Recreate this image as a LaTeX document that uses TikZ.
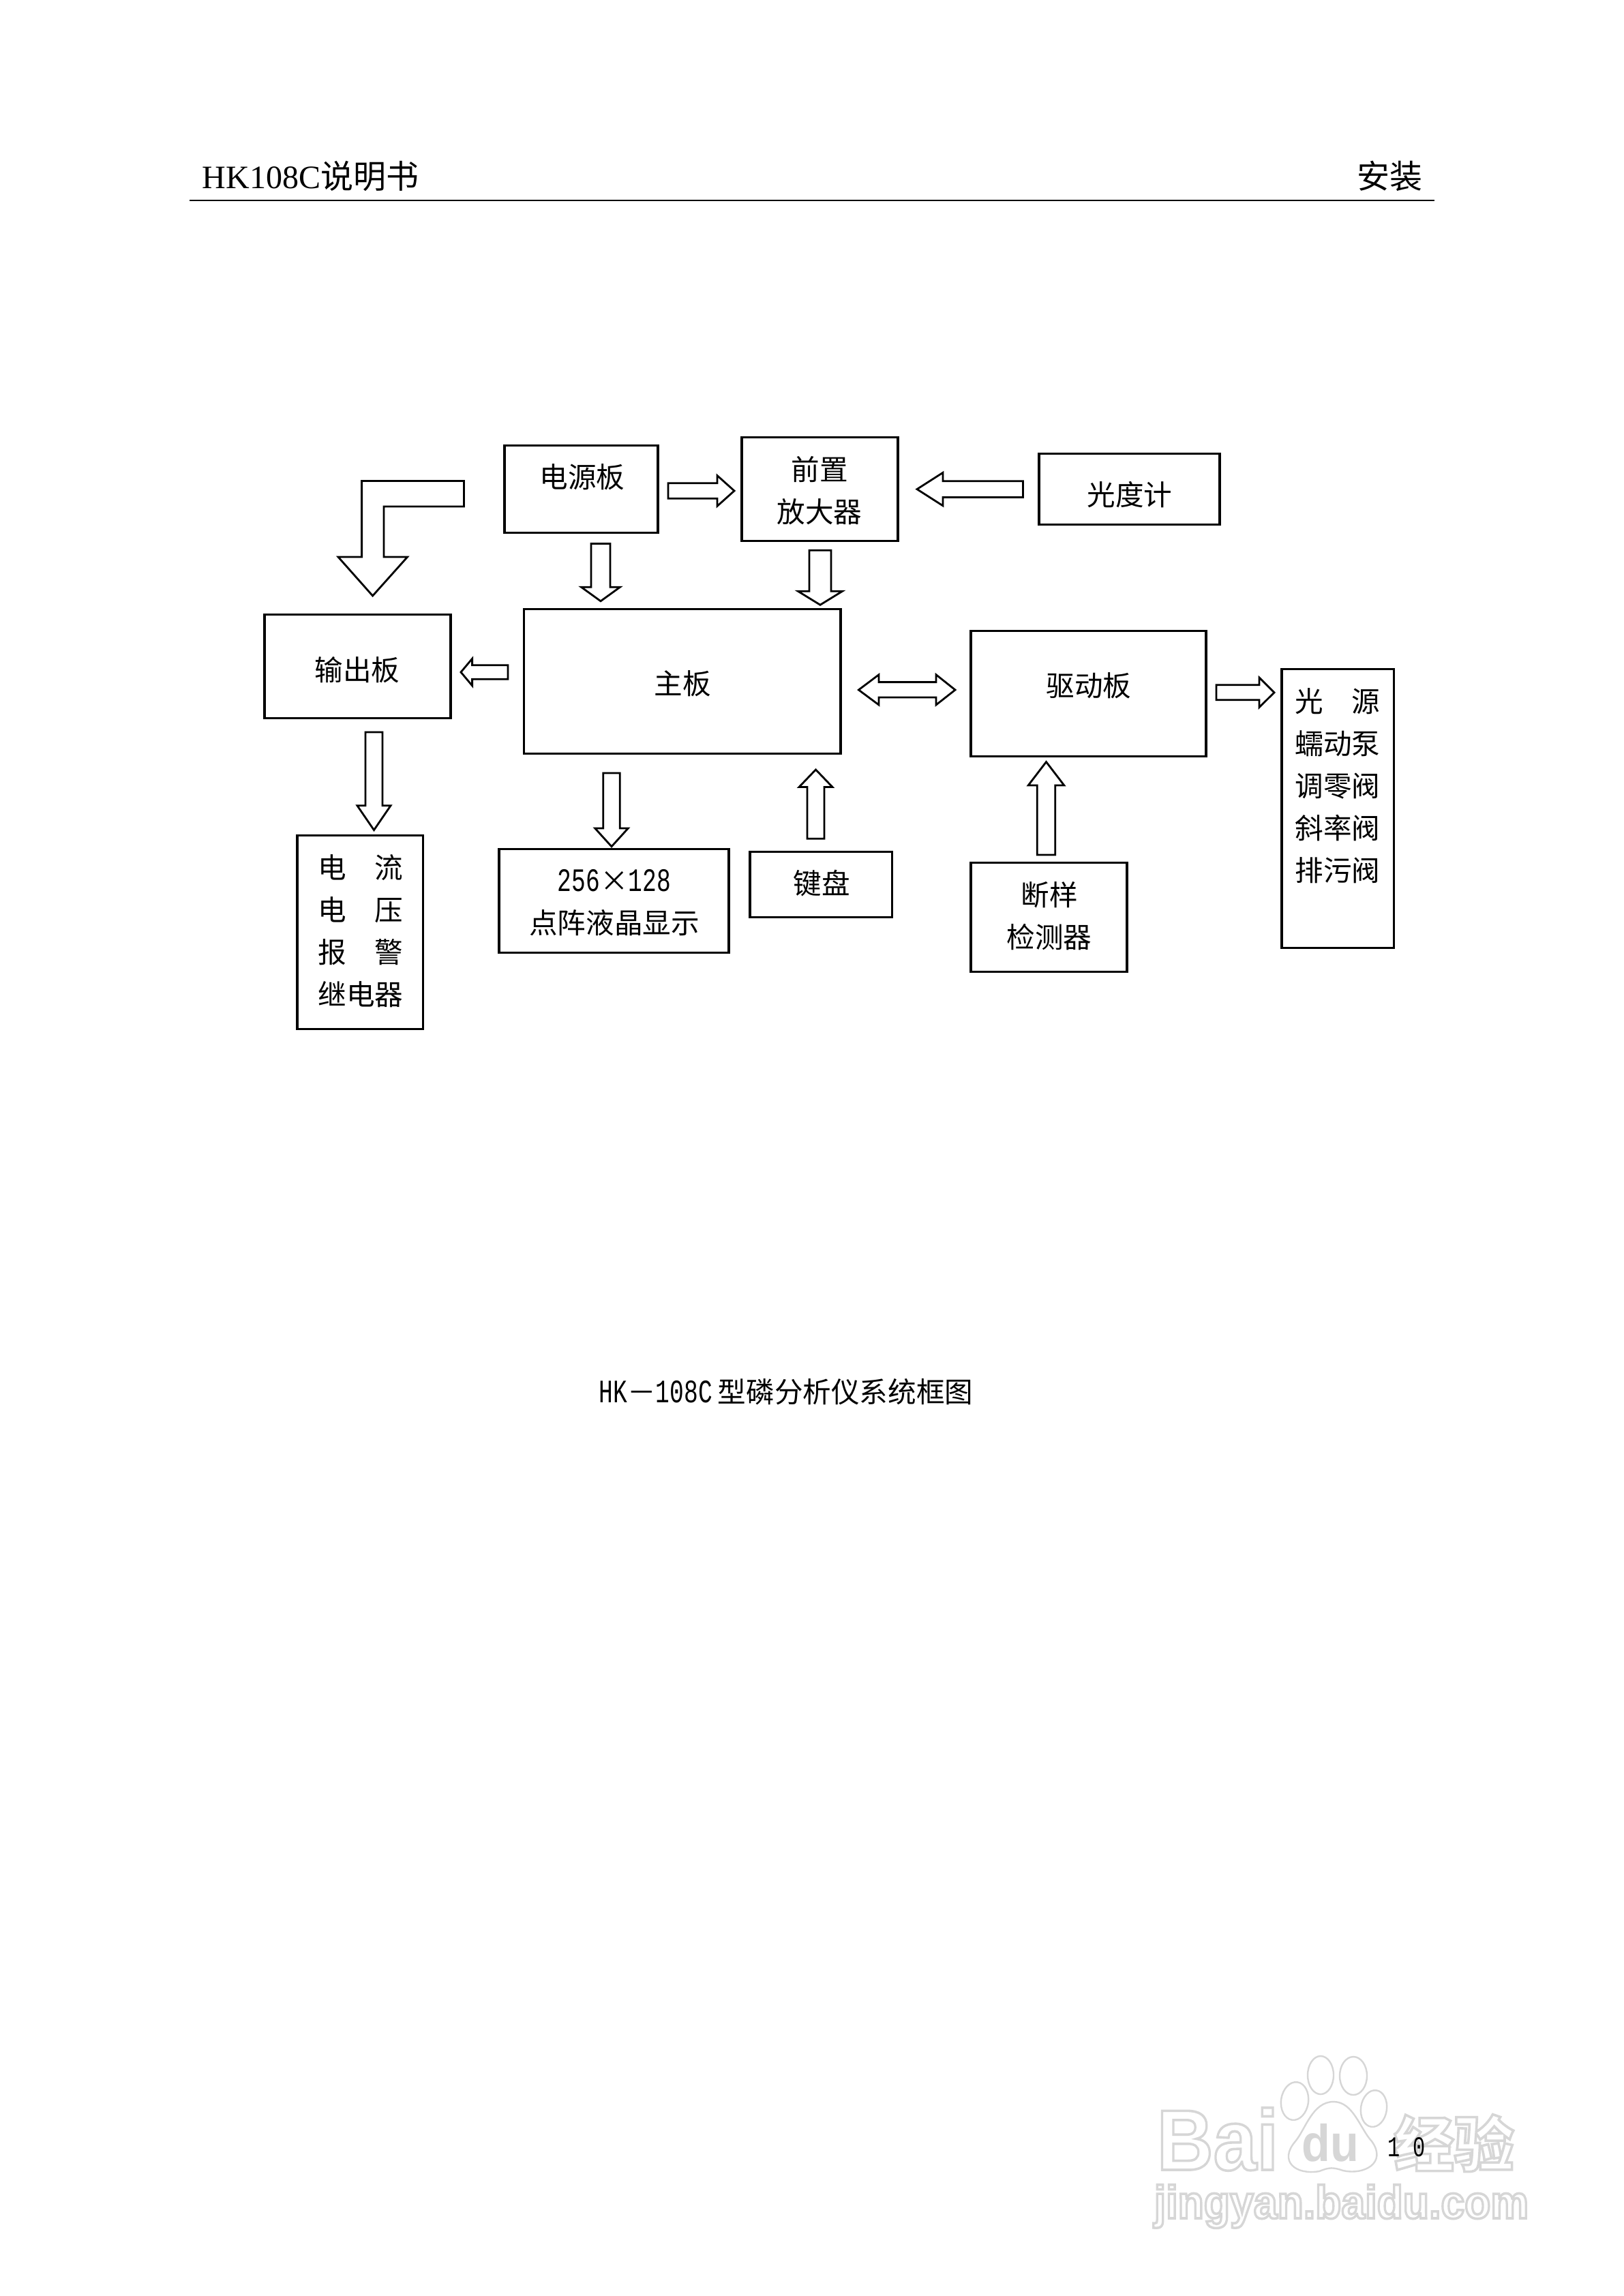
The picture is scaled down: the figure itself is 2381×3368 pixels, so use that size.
\documentclass[tikz,border=0pt]{standalone}
\usepackage{fontspec}
\usetikzlibrary{calc}
\setmainfont{Liberation Serif}
\newfontfamily\cjkf{Noto Sans CJK SC}
\newfontfamily\halfw[FakeStretch=0.72]{Liberation Mono}
\newfontfamily\wmsans[BoldFont={Liberation Sans Bold}]{Liberation Sans}
\newcommand{\hw}[1]{{\halfw\fontsize{12}{15.5}\selectfont #1}}
\newcommand{\outl}[1]{\special{pdf:code 1 Tr 0.9 w}#1\special{pdf:code 0 Tr 1 w}}
\definecolor{wmgray}{gray}{0.84}
\tikzset{
  x=0.25pt, y=-0.25pt,
  boxn/.style={draw=black, line width=0.8pt, fill=none, inner sep=0, outer sep=0},
  txt/.style={font=\cjkf\fontsize{10.4}{15.5}\selectfont, align=center, inner sep=0, text=black},
  blockline/.style={draw=black, line width=0.7pt, line join=miter, fill=white},
  wm/.style={draw=wmgray, line width=0.6pt, fill=white},
  wmtxt/.style={text=wmgray, inner sep=0, transform shape},
}
% box: name, x1, y1, x2, y2
\newcommand{\boxat}[5]{\node[boxn, minimum width={(#4-#2)*0.25pt}, minimum height={(#5-#3)*0.25pt}] (#1) at ({(#2+#4)/2},{(#3+#5)/2}) {};}
% block arrow: tail, tip, half shaft, half head, head length
\newcommand{\blockarrow}[5]{%
  \coordinate (base) at ($(#2)!#5*0.25pt!(#1)$);
  \draw[blockline]
    ($(#1)!#3*0.25pt!90:(#2)$) --
    ($(base)!#3*0.25pt!-90:(#1)$) --
    ($(base)!#4*0.25pt!-90:(#1)$) --
    (#2) --
    ($(base)!#4*0.25pt!90:(#1)$) --
    ($(base)!#3*0.25pt!90:(#1)$) --
    ($(#1)!#3*0.25pt!-90:(#2)$) -- cycle;}
\begin{document}
\begin{tikzpicture}
\useasboundingbox (0,0) rectangle (2381,3368);
\fill[white] (0,0) rectangle (2381,3368);

% watermark
\draw[wm,rotate around={-8:(1899,3082)}] (1899,3082) ellipse [x radius=20, y radius=28];
\draw[wm] (1937,3044) ellipse [x radius=19, y radius=28];
\draw[wm] (1985,3045) ellipse [x radius=20, y radius=28];
\draw[wm,rotate around={-8:(2015,3093)}] (2015,3093) ellipse [x radius=19, y radius=27];
\coordinate (palmT) at (1956,3083);
\draw[wm] (palmT) .. controls (1985,3083) and (1995,3123) .. (2012,3141)
  .. controls (2035,3173) and (2000,3191) .. (1970,3184)
  .. controls (1955,3179) and (1950,3179) .. (1935,3185)
  .. controls (1900,3191) and (1875,3170) .. (1900,3141)
  .. controls (1915,3123) and (1925,3083) .. (palmT);
\node[wmtxt, anchor=base west, xscale=0.91, font=\wmsans\bfseries\fontsize{31.5}{32}\selectfont] (wmBai) at (1696,3183) {\outl{Bai}};
\node[wmtxt, anchor=base, xscale=0.9, font=\wmsans\bfseries\fontsize{19}{19}\selectfont] (wmdu) at (1951,3170) {du};
\node[wmtxt, anchor=base west, font=\cjkf\bfseries\fontsize{22}{22}\selectfont] (wmjy) at (2044,3178) {\outl{经验}};
\node[wmtxt, anchor=base west, xscale=0.92, font=\wmsans\bfseries\fontsize{17}{17}\selectfont] (wmurl) at (1692,3254) {\outl{jingyan.baidu.com}};

% header
\node[anchor=base west, inner sep=0, font=\fontsize{12}{14}\selectfont] (hdrL) at (296,277) {HK108C{\cjkf 说明书}};
\node[anchor=base, inner sep=0, font=\cjkf\fontsize{12}{14}\selectfont] (hdrR) at (2038,277) {安装};
\coordinate (ruleL) at (278,294);
\coordinate (ruleR) at (2104,294);
\draw[black, line width=0.6pt] (ruleL) -- (ruleR);

% boxes
\boxat{power}{740}{653.3}{965}{781.2}
\boxat{preamp}{1088}{641.2}{1317}{793.9}
\boxat{photo}{1524}{665.5}{1789}{769.7}
\boxat{mainb}{768.5}{893.3}{1233}{1105.5}
\boxat{output}{388}{901.2}{661}{1053.3}
\boxat{relay}{436}{1225.5}{620.5}{1509.7}
\boxat{lcd}{732}{1245.5}{1069}{1397.6}
\boxat{keys}{1100}{1249.7}{1308.5}{1345.5}
\boxat{drive}{1424}{925.5}{1769}{1109.7}
\boxat{sensor}{1424}{1265.5}{1653}{1425.5}
\boxat{loads}{1880}{981.2}{2044.5}{1390.3}

% labels
\node[txt] (powerT) at (854,700) {电源板};
\node[txt] (preampT) at (1202,720) {前置\\放大器};
\node[txt] (photoT) at (1657,725.5) {光度计};
\node[txt] (mainT) at (1001,1003) {主板};
\node[txt] (outputT) at (524,983) {输出板};
\node[txt] (relayT) at (529,1366) {电　流\\电　压\\报　警\\继电器};
\node[txt] (lcdT) at (901,1324) {\hw{256}×\hw{128}\\点阵液晶显示};
\node[txt] (keysT) at (1205,1296) {键盘};
\node[txt] (driveT) at (1597,1006) {驱动板};
\node[txt] (sensorT) at (1539,1344) {断样\\检测器};
\node[txt] (loadsT) at (1962,1153) {光　源\\蠕动泵\\调零阀\\斜率阀\\排污阀};

% L-shaped arrow
\coordinate (Lta) at (680.5,705.5);
\coordinate (Ltb) at (680.5,743);
\coordinate (Lin) at (563,743);
\coordinate (Lout) at (530.6,705.5);
\coordinate (Lbr) at (563,817);
\coordinate (Lhr) at (597.6,817);
\coordinate (Ltip) at (546.6,874);
\coordinate (Lhl) at (496,817);
\coordinate (Lbl) at (530.6,817);
\draw[blockline] (Lta) -- (Ltb) -- (Lin) -- (Lbr) -- (Lhr) -- (Ltip) -- (Lhl) -- (Lbl) -- (Lout) -- cycle;

% block arrows
\coordinate (a1s) at (980,720);     \coordinate (a1e) at (1077,720);
\coordinate (a2s) at (881,797.6);   \coordinate (a2e) at (881,881.8);
\coordinate (a3s) at (1203,807.3);  \coordinate (a3e) at (1203,887.3);
\coordinate (a4s) at (1500.5,717.6);\coordinate (a4e) at (1345,717.6);
\coordinate (a5s) at (745,986);     \coordinate (a5e) at (676,986);
\coordinate (a6s) at (548.5,1074);  \coordinate (a6e) at (548.5,1217.6);
\coordinate (a7s) at (897,1134);    \coordinate (a7e) at (897,1241.8);
\coordinate (a8s) at (1196.5,1230.3);\coordinate (a8e) at (1196.5,1129);
\coordinate (a9s) at (1784,1015.8); \coordinate (a9e) at (1869,1015.8);
\coordinate (a10s) at (1534.5,1254);\coordinate (a10e) at (1534.5,1117.6);
\blockarrow{a1s}{a1e}{11.2}{22.4}{25}
\blockarrow{a2s}{a2e}{14}{28.5}{20.6}
\blockarrow{a3s}{a3e}{16}{32.5}{20}
\blockarrow{a4s}{a4e}{11.9}{24.3}{38}
\blockarrow{a5s}{a5e}{10.3}{19.8}{16.6}
\blockarrow{a6s}{a6e}{12.5}{24.5}{35.8}
\blockarrow{a7s}{a7e}{12.3}{24.3}{26.8}
\blockarrow{a8s}{a8e}{12.5}{24.5}{25.5}
\blockarrow{a9s}{a9e}{11}{21.8}{22}
\blockarrow{a10s}{a10e}{13.3}{26.3}{34.4}

% double arrow
\coordinate (dL) at (1259.4,1012);
\coordinate (dR) at (1401,1012);
\draw[blockline] (dL) -- (1289,989.7) -- (1289,1000.6) -- (1373,1000.6) -- (1373,989.7) -- (dR)
  -- (1373,1034) -- (1373,1023) -- (1289,1023) -- (1289,1034) -- cycle;

% caption and page number
\node[anchor=base west, inner sep=0, font=\cjkf\fontsize{10.4}{12}\selectfont] (caption) at (878,2057)
  {\hw{HK}－\hw{108C}\hspace{2pt}型磷分析仪系统框图};
\node[anchor=base west, inner sep=0, font=\halfw\fontsize{10.5}{12}\selectfont] (pageno) at (2035,3163) {1 0};
\end{tikzpicture}
\end{document}
